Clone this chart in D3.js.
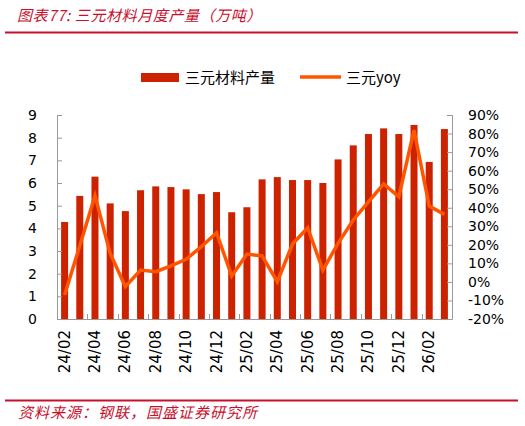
<!DOCTYPE html>
<html>
<head>
<meta charset="utf-8">
<script src="https://cdn.jsdelivr.net/npm/d3@7"></script>
<style>
  body { margin: 0; background: #fff; }
  svg text { font-family: "DejaVu Sans", sans-serif; }
  .cjk { font-family: "Noto Sans CJK SC", sans-serif; }
</style>
</head>
<body>
<svg id="chart" width="525" height="426"></svg>
<script>
var months = ["24/02","24/03","24/04","24/05","24/06","24/07","24/08","24/09","24/10","24/11","24/12","25/01",
              "25/02","25/03","25/04","25/05","25/06","25/07","25/08","25/09","25/10","25/11","25/12","26/01",
              "26/02","26/03"];
var output = [4.28,5.43,6.28,5.10,4.76,5.68,5.85,5.82,5.72,5.51,5.60,4.71,
              4.93,6.16,6.26,6.13,6.13,6.00,7.04,7.66,8.16,8.41,8.16,8.56,
              6.93,8.38];
var yoy = [-7.1,19.5,46.5,15.4,-2.6,6.4,5.5,8.7,12.2,19.0,26.5,3.2,
           15.0,14.0,0.1,20.4,29.2,6.4,20.8,33.4,43.2,52.8,45.9,81.9,
           40.9,36.4];
var leftTicks = [0,1,2,3,4,5,6,7,8,9];
var rightTicks = [-20,-10,0,10,20,30,40,50,60,70,80,90];
var labelMonths = months.filter(function(d, i) { return i % 2 == 0; });

var margin = {top: 115, left: 57, right: 73, bottom: 107},
    width = 525 - margin.left - margin.right,
    height = 426 - margin.top - margin.bottom;

var svg = d3.select("#chart");
var red = "#c8102e";

// title + rules
svg.append("text").attr("class", "cjk")
  .attr("x", 17).attr("y", 21)
  .attr("fill", red).attr("font-size", 15).attr("font-style", "italic")
  .attr("letter-spacing", 0.6)
  .text("图表77: 三元材料月度产量（万吨）");
svg.append("line").attr("x1", 5).attr("x2", 518).attr("y1", 32.5).attr("y2", 32.5)
  .attr("stroke", red).attr("stroke-width", 2);
svg.append("line").attr("x1", 5).attr("x2", 518).attr("y1", 400.5).attr("y2", 400.5)
  .attr("stroke", red).attr("stroke-width", 2);
svg.append("text").attr("class", "cjk")
  .attr("x", 18).attr("y", 418)
  .attr("fill", red).attr("font-size", 15).attr("font-style", "italic")
  .attr("letter-spacing", 1)
  .text("资料来源：钢联，国盛证券研究所");

var x = d3.scaleBand().domain(months).range([0, width]);
var y = d3.scaleLinear().domain([0, 9]).range([height, 0]);
var y2 = d3.scaleLinear().domain([-20, 90]).range([height, 0]);

var g = svg.append("g")
  .attr("transform", "translate(" + margin.left + "," + margin.top + ")");

g.selectAll("rect.bar")
  .data(output)
  .enter().append("rect")
    .attr("class", "bar")
    .attr("x", function(d, i) { return x(months[i]) + x.bandwidth()/2 - 3.5; })
    .attr("y", function(d) { return y(d); })
    .attr("width", 7)
    .attr("height", function(d) { return height - y(d); })
    .attr("fill", "#cc2200");

var line = d3.line()
  .x(function(d, i) { return x(months[i]) + x.bandwidth()/2; })
  .y(function(d) { return y2(d); });

g.append("path")
  .datum(yoy)
  .attr("d", line)
  .attr("fill", "none")
  .attr("stroke", "#ff5500")
  .attr("stroke-width", 3.5)
  .attr("stroke-linejoin", "miter");

// axes
var yAxis = d3.axisLeft(y).tickValues(leftTicks).tickSize(-5).tickPadding(20);
var y2Axis = d3.axisRight(y2).tickValues(rightTicks).tickSize(-5).tickPadding(16)
  .tickFormat(function(d) { return d + "%"; });

var ga = g.append("g").call(yAxis);
var gb = g.append("g").attr("transform", "translate(" + width + ",0)").call(y2Axis);
[ga, gb].forEach(function(a) {
  a.select(".domain").attr("stroke", "#999");
  a.selectAll(".tick line").attr("stroke", "#999");
  a.selectAll("text").attr("font-size", 14).attr("fill", "#000")
    .attr("font-family", "DejaVu Sans, sans-serif");
});

// bottom axis line and ticks every two months
g.append("line").attr("x1", 0).attr("x2", width)
  .attr("y1", height + 0.5).attr("y2", height + 0.5).attr("stroke", "#999");
g.selectAll("line.xt")
  .data(labelMonths.slice(1))
  .enter().append("line")
    .attr("class", "xt")
    .attr("x1", function(d) { return Math.round(x(d)) + 0.5; })
    .attr("x2", function(d) { return Math.round(x(d)) + 0.5; })
    .attr("y1", height).attr("y2", height - 5)
    .attr("stroke", "#999");

g.selectAll("text.xl")
  .data(labelMonths)
  .enter().append("text")
    .attr("class", "xl")
    .attr("transform", function(d) {
      return "translate(" + (x(d) + x.bandwidth()/2 + 5) + "," + (height + 11) + ") rotate(-90)";
    })
    .attr("text-anchor", "end")
    .attr("font-size", 15)
    .attr("font-family", "Liberation Sans Narrow, Liberation Sans, sans-serif")
    .attr("fill", "#000")
    .text(function(d) { return d; });

// legend
svg.append("rect").attr("x", 141).attr("y", 73).attr("width", 38).attr("height", 9)
  .attr("fill", "#cc2200");
svg.append("text").attr("class", "cjk").attr("x", 185).attr("y", 83)
  .attr("font-size", 15).attr("fill", "#000").text("三元材料产量");
svg.append("line").attr("x1", 300).attr("x2", 341).attr("y1", 77).attr("y2", 77)
  .attr("stroke", "#ff5500").attr("stroke-width", 3.5);
svg.append("text").attr("class", "cjk").attr("x", 346).attr("y", 83)
  .attr("font-size", 15).attr("fill", "#000").text("三元yoy");
</script>
</body>
</html>
